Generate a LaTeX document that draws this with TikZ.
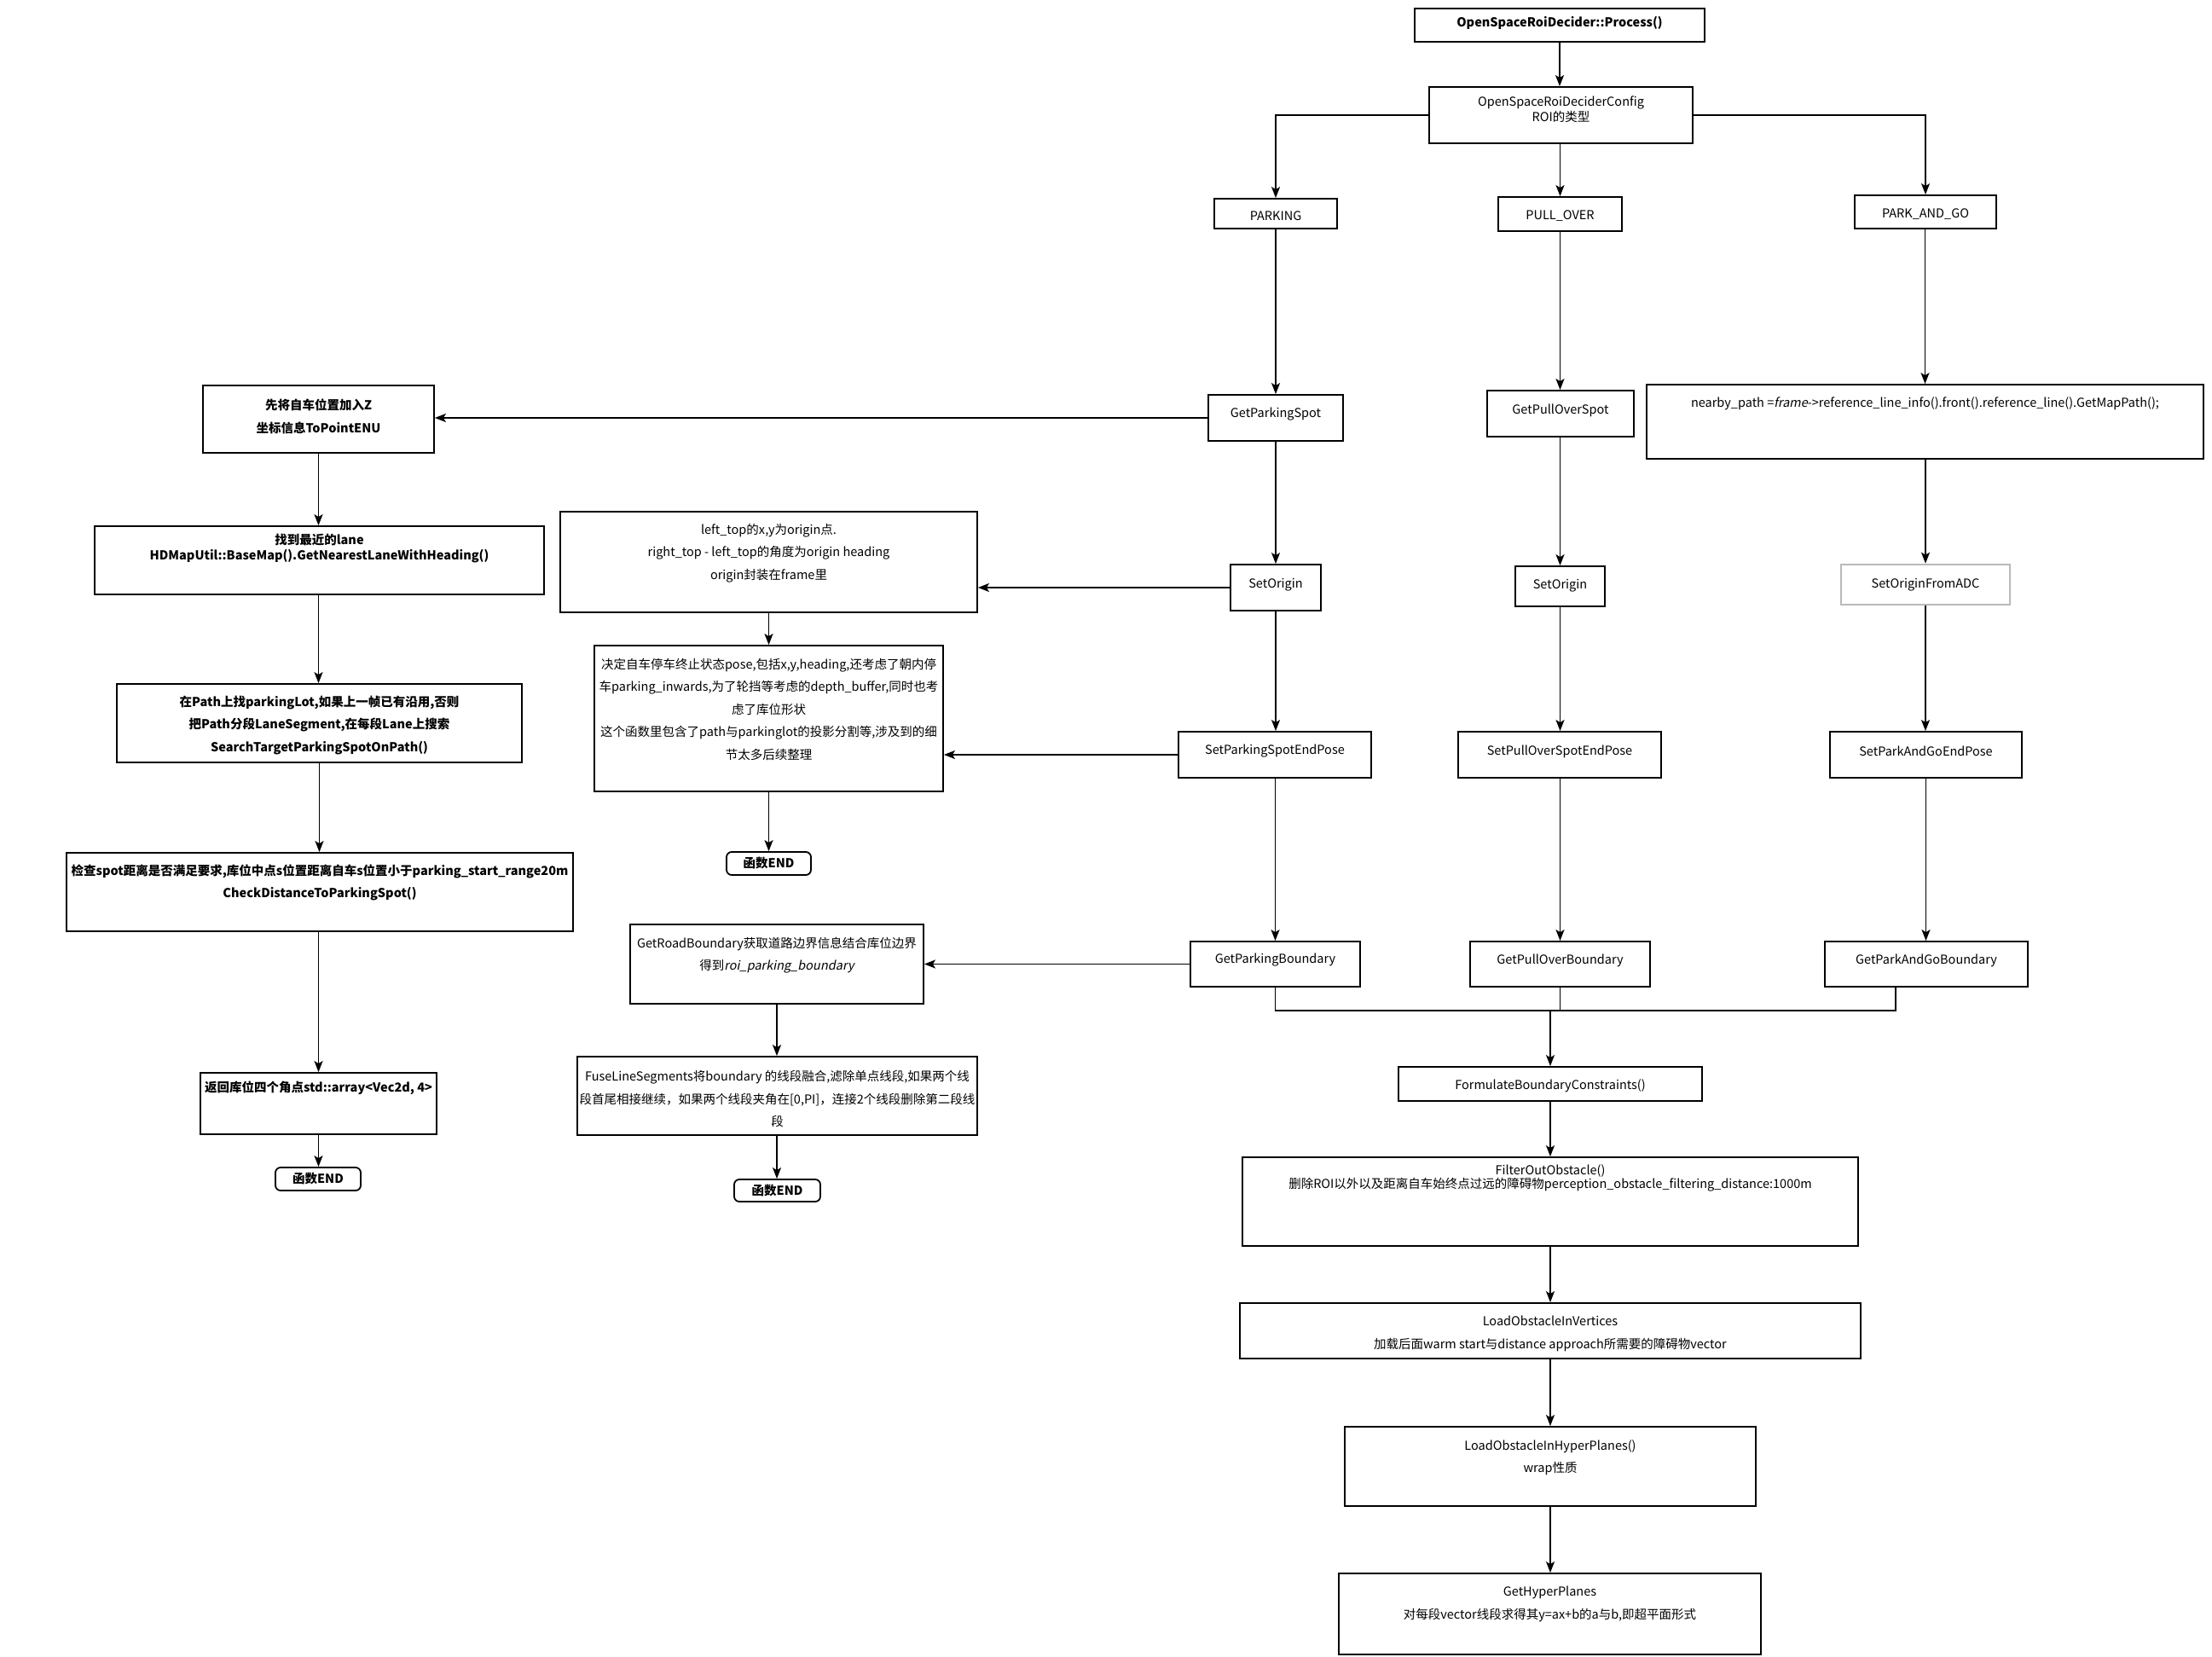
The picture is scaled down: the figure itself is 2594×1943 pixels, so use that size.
\documentclass[tikz,border=0pt]{standalone}
\usepackage{fontspec}
\setmainfont{Noto Sans CJK SC}
\newfontfamily\itf{Noto Sans CJK SC}[FakeSlant=0.2]
\usetikzlibrary{arrows.meta}
\begin{document}
\begin{tikzpicture}[x=1pt,y=-1pt,
  box/.style={draw=black, line width=1.8pt, inner sep=0pt, fill=white},
  endbox/.style={box, rounded corners=6pt},
  tx/.style={align=center, inner sep=0pt, text=black, font=\fontsize{14.5}{26.5}\selectfont},
  txb/.style={tx, font=\fontsize{14.5}{26.5}\selectfont\bfseries},
  tight/.style={font=\fontsize{14.5}{18}\selectfont},
  tightb/.style={font=\fontsize{14.5}{18}\selectfont\bfseries},
  arr/.style={line width=1.6pt, -{Stealth[length=13pt,width=10pt,inset=3pt]}},
  ln/.style={line width=1.6pt}]
\useasboundingbox (0,0) rectangle (2594,1943);
\fill[white] (0,0) rectangle (2594,1943);

% ---------- boxes ----------
\node[box, minimum width=340pt, minimum height=39pt] (proc) at (1829,29.5) {};
\node[box, minimum width=309pt, minimum height=66pt] (cfg) at (1830.5,135) {};
\node[box, minimum width=144pt, minimum height=35pt] (park) at (1496,250.5) {};
\node[box, minimum width=145pt, minimum height=40pt] (pull) at (1829.5,251) {};
\node[box, minimum width=166pt, minimum height=39pt] (pag) at (2258,248.5) {};

\node[box, minimum width=158pt, minimum height=54pt] (gps) at (1496,490) {};
\node[box, minimum width=172pt, minimum height=54pt] (gpos) at (1830,485) {};
\node[box, minimum width=653pt, minimum height=87pt] (near) at (2257.5,494.5) {};

\node[box, minimum width=271pt, minimum height=79pt] (xian) at (373.5,491.5) {};
\node[box, minimum width=527pt, minimum height=80pt] (zhao) at (374.5,657) {};
\node[box, minimum width=489pt, minimum height=118pt] (ltop) at (901.5,659) {};

\node[box, minimum width=106pt, minimum height=54pt] (so1) at (1496,689) {};
\node[box, minimum width=105pt, minimum height=47pt] (so2) at (1829.5,687.5) {};
\node[box, draw=gray!55, line width=2.6pt, minimum width=198pt, minimum height=47pt] (adc) at (2258,685.5) {};

\node[box, minimum width=409pt, minimum height=171pt] (jue) at (901.5,842.5) {};
\node[box, minimum width=226pt, minimum height=54pt] (spep) at (1495,885) {};
\node[box, minimum width=238pt, minimum height=54pt] (spoep) at (1829,885) {};
\node[box, minimum width=225pt, minimum height=54pt] (spgep) at (2258.5,885) {};

\node[box, minimum width=475pt, minimum height=92pt] (zai) at (374.5,848) {};
\node[endbox, minimum width=99pt, minimum height=27pt] (endA) at (901.5,1012.5) {};
\node[box, minimum width=594pt, minimum height=92pt] (jian) at (375,1046) {};

\node[box, minimum width=344pt, minimum height=93pt] (grb) at (911,1130.5) {};
\node[box, minimum width=199pt, minimum height=53pt] (gpb) at (1495.5,1130.5) {};
\node[box, minimum width=211pt, minimum height=53pt] (gpob) at (1829.5,1130.5) {};
\node[box, minimum width=238pt, minimum height=53pt] (gpgb) at (2259,1130.5) {};

\node[box, minimum width=469pt, minimum height=92pt] (fuse) at (911.5,1285) {};
\node[box, minimum width=277pt, minimum height=72pt] (fan) at (373.5,1294) {};
\node[endbox, minimum width=100pt, minimum height=27pt] (endB) at (373,1382.5) {};
\node[endbox, minimum width=101pt, minimum height=26pt] (endC) at (911.5,1396) {};

\node[box, minimum width=356pt, minimum height=40pt] (form) at (1818,1271) {};
\node[box, minimum width=722pt, minimum height=104pt] (filt) at (1818,1409) {};
\node[box, minimum width=728pt, minimum height=65pt] (lov) at (1818,1560.5) {};
\node[box, minimum width=482pt, minimum height=93pt] (lohp) at (1818,1719.5) {};
\node[box, minimum width=495pt, minimum height=95pt] (ghp) at (1817.5,1892.5) {};

% ---------- texts ----------
\node[txb] at (1829,27) {OpenSpaceRoiDecider::Process()};
\node[tx, tight] at (1830.5,128) {OpenSpaceRoiDeciderConfig\\ROI的类型};
\node[tx] at (1496,253) {PARKING};
\node[tx] at (1829.5,253) {PULL\_OVER};
\node[tx] at (2258,251) {PARK\_AND\_GO};
\node[tx] at (1496,486) {GetParkingSpot};
\node[tx] at (1830,481) {GetPullOverSpot};
\node[tx] at (2257.5,473) {nearby\_path =\itf frame\normalfont->reference\_line\_info().front().reference\_line().GetMapPath();};
\node[txb] at (373.5,488.5) {先将自车位置加入Z\\坐标信息ToPointENU};
\node[txb, tightb] at (374.5,643.5) {找到最近的lane\\HDMapUtil::BaseMap().GetNearestLaneWithHeading()};
\node[tx] at (901.5,648.5) {left\_top的x,y为origin点.\\right\_top - left\_top的角度为origin heading\\origin封装在frame里};
\node[tx] at (1496,686) {SetOrigin};
\node[tx] at (1829.5,687) {SetOrigin};
\node[tx] at (2258,686) {SetOriginFromADC};
\node[tx] at (901.5,831.5) {决定自车停车终止状态pose,包括x,y,heading,还考虑了朝内停\\车parking\_inwards,为了轮挡等考虑的depth\_buffer,同时也考\\虑了库位形状\\这个函数里包含了path与parkinglot的投影分割等,涉及到的细\\节太多后续整理};
\node[tx] at (1495,881) {SetParkingSpotEndPose};
\node[tx] at (1829,881) {SetPullOverSpotEndPose};
\node[tx] at (2258.5,881) {SetParkAndGoEndPose};
\node[txb] at (374.5,850.5) {在Path上找parkingLot,如果上一帧已有沿用,否则\\把Path分段LaneSegment,在每段Lane上搜索\\SearchTargetParkingSpotOnPath()};
\node[txb] at (901.5,1012) {函数END};
\node[txb] at (375,1035) {检查spot距离是否满足要求,库位中点s位置距离自车s位置小于parking\_start\_range20m\\CheckDistanceToParkingSpot()};
\node[tx] at (911,1120) {GetRoadBoundary获取道路边界信息结合库位边界\\得到{\itf roi\_parking\_boundary}};
\node[tx] at (1495.5,1126) {GetParkingBoundary};
\node[tx] at (1829.5,1126) {GetPullOverBoundary};
\node[tx] at (2259,1126) {GetParkAndGoBoundary};
\node[tx] at (911.5,1288.5) {FuseLineSegments将boundary 的线段融合,滤除单点线段,如果两个线\\段首尾相接继续，如果两个线段夹角在[0,PI]，连接2个线段删除第二段线\\段};
\node[txb] at (373.5,1276) {返回库位四个角点std::array<Vec2d, 4>};
\node[txb] at (373,1382) {函数END};
\node[txb] at (911.5,1396) {函数END};
\node[tx] at (1818,1273) {FormulateBoundaryConstraints()};
\node[tx, font=\fontsize{14.5}{16}\selectfont] at (1818,1381.5) {FilterOutObstacle()\\删除ROI以外以及距离自车始终点过远的障碍物perception\_obstacle\_filtering\_distance:1000m};
\node[tx] at (1818,1564) {LoadObstacleInVertices\\加载后面warm start与distance approach所需要的障碍物vector};
\node[tx] at (1818,1709) {LoadObstacleInHyperPlanes()\\wrap性质};
\node[tx] at (1817.5,1881) {GetHyperPlanes\\对每段vector线段求得其y=ax+b的a与b,即超平面形式};

% ---------- connectors ----------
\draw[arr] (proc.south) -- (proc.south |- cfg.north);
\draw[arr] (cfg.west) -| (park.north);
\draw[arr] (cfg.south -| pull.north) -- (pull.north);
\draw[arr] (cfg.east) -| (pag.north);

\draw[arr] (park.south) -- (park.south |- gps.north);
\draw[arr] (gps.south) -- (gps.south |- so1.north);
\draw[arr] (so1.south) -- (so1.south |- spep.north);
\draw[arr] (spep.south -| gpb.north) -- (gpb.north);

\draw[arr] (pull.south) -- (pull.south |- gpos.north);
\draw[arr] (gpos.south -| so2.north) -- (so2.north);
\draw[arr] (so2.south) -- (so2.south |- spoep.north);
\draw[arr] (spoep.south -| gpob.north) -- (gpob.north);

\draw[arr] (pag.south -| near.north) -- (near.north);
\draw[arr] (near.south -| adc.north) -- (adc.north);
\draw[arr] (adc.south) -- (adc.south |- spgep.north);
\draw[arr] (spgep.south) -- (spgep.south |- gpgb.north);

\draw[arr] (gps.west) -- (gps.west -| xian.east);
\draw[arr] (so1.west) -- (so1.west -| ltop.east);
\draw[arr] (spep.west) -- (spep.west -| jue.east);
\draw[arr] (gpb.west) -- (gpb.west -| grb.east);

\draw[arr] (xian.south) -- (xian.south |- zhao.north);
\draw[arr] (zhao.south -| xian.south) -- (xian.south |- zai.north);
\draw[arr] (zai.south) -- (zai.south |- jian.north);
\draw[arr] (jian.south -| fan.north) -- (fan.north);
\draw[arr] (fan.south) -- (fan.south |- endB.north);

\draw[arr] (ltop.south) -- (ltop.south |- jue.north);
\draw[arr] (jue.south) -- (jue.south |- endA.north);
\draw[arr] (grb.south) -- (grb.south |- fuse.north);
\draw[arr] (fuse.south -| grb.south) -- (grb.south |- endC.north);

\coordinate (mL) at (1496,1185);
\coordinate (mR) at (2223,1185);
\draw[ln] (gpb.south) -- (gpb.south |- mL) -- (mR) -- (mR |- gpgb.south);
\draw[ln] (gpob.south) -- (gpob.south |- mL);
\draw[arr] (form.north |- mL) -- (form.north);
\draw[arr] (form.south) -- (form.south |- filt.north);
\draw[arr] (filt.south) -- (filt.south |- lov.north);
\draw[arr] (lov.south) -- (lov.south |- lohp.north);
\draw[arr] (lohp.south) -- (lohp.south |- ghp.north);
\end{tikzpicture}
\end{document}
